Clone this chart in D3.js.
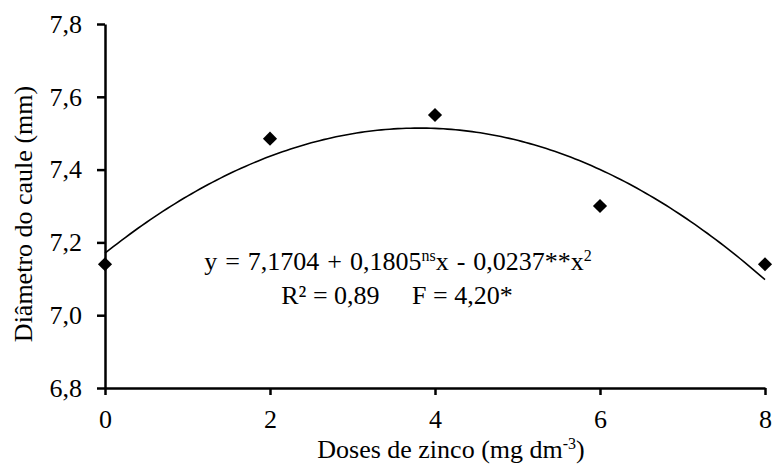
<!DOCTYPE html>
<html>
<head>
<meta charset="utf-8">
<script src="https://cdn.jsdelivr.net/npm/d3@7"></script>
<style>
  body { margin: 0; background: #fff; }
</style>
</head>
<body>
<div id="chart"></div>
<script>
/* Diametro do caule vs doses de zinco */

const doses = [0, 2, 4, 6, 8];
const diametro = [7.14, 7.485, 7.55, 7.30, 7.14];
const xTicks = [0, 2, 4, 6, 8];
const yTicks = [6.8, 7.0, 7.2, 7.4, 7.6, 7.8];
const coef = [7.1704, 0.1805, -0.0237]; // fitted quadratic, from the equation

const serif = "'Liberation Serif', 'DejaVu Serif', serif";

const width = 774,
      height = 467,
      margin = ({ top: 24, right: 9, bottom: 79, left: 105 });

let svg = d3.select("#chart")
    .append("svg")
    .attr("width", width)
    .attr("height", height)
    .attr("font-family", serif);

let x = d3.scaleLinear()
    .domain([0, 8])
    .range([margin.left, width - margin.right]);

let y = d3.scaleLinear()
    .domain([6.8, 7.8])
    .range([height - margin.bottom, margin.top]);

const fmt = d => d3.format(".1f")(d).replace(".", ",");

let yAxis = svg.append("g")
    .attr("transform", `translate(${margin.left},0)`)
    .call(d3.axisLeft(y).tickValues(yTicks).tickFormat(fmt).tickSize(8).tickPadding(15).tickSizeOuter(0));

let xAxis = svg.append("g")
    .attr("transform", `translate(0,${height - margin.bottom})`)
    .call(d3.axisBottom(x).tickValues(xTicks).tickFormat(d3.format("d")).tickSize(7).tickPadding(15).tickSizeOuter(0));

for (let ax of [xAxis, yAxis]) {
    ax.attr("font-family", serif).attr("font-size", 26);
    ax.selectAll("path, line").attr("stroke", "#000").attr("stroke-width", 2.5);
    ax.selectAll("text").attr("fill", "#000");
}

// trend line
let curve = d3.range(0, 8.001, 0.05).map(v => [v, coef[0] + coef[1] * v + coef[2] * v * v]);

svg.append("path")
    .datum(curve)
    .attr("fill", "none")
    .attr("stroke", "#000")
    .attr("stroke-width", 1.6)
    .attr("d", d3.line().x(d => x(d[0])).y(d => y(d[1])));

// points
svg.selectAll(".pt")
    .data(doses)
    .join("path")
    .attr("class", "pt")
    .attr("d", d3.symbol(d3.symbolSquare, 100))
    .attr("transform", (d, i) => `translate(${x(d)},${y(diametro[i])}) rotate(45)`)
    .attr("fill", "#000");

// equation
let eq = svg.append("text")
    .attr("x", 398)
    .attr("y", 270)
    .attr("text-anchor", "middle")
    .attr("font-size", 26)
    .style("word-spacing", "1.5px");
eq.append("tspan").text("y = 7,1704 + 0,1805");
eq.append("tspan").text("ns").attr("dy", -9).attr("font-size", 16);
eq.append("tspan").text("x - 0,0237**x").attr("dy", 9);
eq.append("tspan").text("2").attr("dy", -9).attr("font-size", 16);

svg.append("text")
    .attr("x", 397)
    .attr("y", 304)
    .attr("text-anchor", "middle")
    .attr("font-size", 26)
    .attr("xml:space", "preserve")
    .style("white-space", "pre")
    .text("R² = 0,89     F = 4,20*");

// axis titles
let xt = svg.append("text")
    .attr("x", 451)
    .attr("y", 458)
    .attr("text-anchor", "middle")
    .attr("font-size", 26);
xt.append("tspan").text("Doses de zinco (mg dm");
xt.append("tspan").text("-3").attr("dy", -9).attr("font-size", 16);
xt.append("tspan").text(")").attr("dy", 9);

svg.append("text")
    .attr("transform", `translate(32,214) rotate(-90)`)
    .attr("text-anchor", "middle")
    .attr("font-size", 26)
    .text("Diâmetro do caule (mm)");
</script>
</body>
</html>
